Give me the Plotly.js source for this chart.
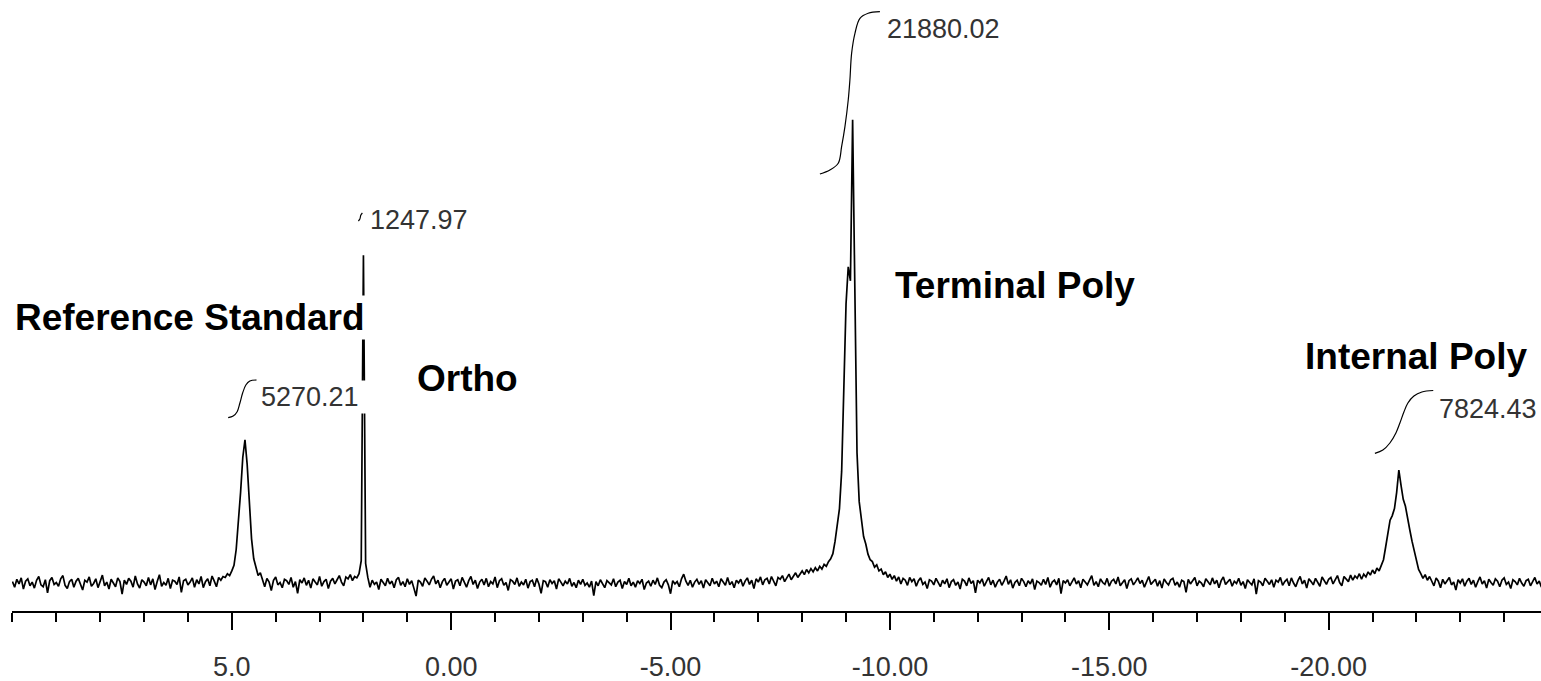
<!DOCTYPE html>
<html>
<head>
<meta charset="utf-8">
<script src="https://cdn.plot.ly/plotly-3.0.1.min.js"></script>
<style>html,body{margin:0;padding:0;background:#fff;}#chart{width:1541px;height:681px;}</style>
</head>
<body>
<div id="chart"></div>
<script>
// Spectrum sampled from 10.00 ppm downward every 0.05 ppm
const startPpm = 10.0;
const stepPpm = -0.05;

const baseA = [0.3,-0.9,0.8,-0.2,1.1,-1.3,0.4,0.9,-0.6,0.2,
-1.1,0.6,1.4,-0.4,-0.8,0.7,-2.1,0.5,1.2,-0.3,
0.1,-0.7,0.9,1.6,-0.5,-1.2,0.3,0.8,-0.9,0.4,
1.0,-0.2,-1.5,0.6,0.2,1.3,-0.7,-0.1,0.9,-1.0,
0.5,1.7,-0.6,0.2,-1.3,0.8,0.0,-0.8,1.1,0.3,
-2.4,0.6,-0.3,1.0,0.4,-0.9,1.5,-0.2,-1.1,0.7,
0.2,-0.6,1.2,-0.4,0.9,-1.4,0.3,1.8,-0.7,0.1,
-0.5,1.0,-1.2,0.6,0.4,-0.3,1.3,-2.0,0.5,0.8,
-0.4,0.2,1.1,-0.9,0.7,-0.2,1.4,-1.0,0.3,0.9,
-0.6,1.5,0.4,-0.8,1.2,0.6,1.4,1.2,2.0,1.6];

const refPeak = [2.6,3.8,7.2,13,19.5,27,30.8,25.5,17.5,9.5,5.2,3.4,1.6,2.2,0.4];

const baseB = [-0.8,1.0,0.2,-1.6,0.6,1.3,-0.4,0.1,-1.0,0.8,
0.5,-0.3,1.2,-0.9,0.3,-2.2,0.7,0.0,1.1,-0.5,
0.6,-1.1,0.9,0.2,-0.4,1.4,-0.7,0.3,0.8,-1.2,
0.4,1.0,-0.2,0.7,1.6,0.2,-0.6,1.3,0.9,1.8,
0.5,1.4,1.1];

const orthoPeak = [2.0,4.8,70.5,4.2,1.2];

const baseC = [-0.9,0.6,-0.3,0.2,-1.4,0.8,0.1,-0.6,1.0,-0.2,
0.4,-1.0,0.7,1.2,-0.5,0.3,-0.8,0.9,-0.3,0.5,
-1.1,-2.8,0.6,0.2,-0.7,1.1,0.4,-0.4,0.8,1.5,
-0.2,0.6,-1.0,0.3,1.0,-0.5,0.2,0.9,-1.3,0.4,
0.7,-0.6,1.2,0.0,-0.9,0.5,1.4,-0.3,0.6,-1.2,
0.2,0.8,-0.4,1.0,-0.8,0.3,-0.2,1.3,-1.0,0.5,
0.9,-0.5,0.1,-1.6,0.7,0.4,-0.3,1.1,-0.7,0.2,
-0.4,0.8,-1.1,0.3,0.6,-0.8,1.0,-0.2,-2.2,0.5,
0.3,-0.9,0.7,-0.1,0.5,-1.3,0.9,0.2,-0.6,0.4,
-0.2,1.0,-0.7,0.1,-1.0,0.6,-0.3,0.8,-0.5,0.0,
-0.9,0.4,-2.7,0.3,-0.6,0.7,-0.2,-1.0,0.5,0.1,
-0.4,0.9,-0.8,0.2,0.6,-1.2,0.3,-0.3,1.0,-0.6,
0.2,-0.9,0.5,-0.1,0.8,-1.4,0.0,0.4,-0.7,0.6,
-0.3,1.1,-0.5,-1.0,0.2,0.7,-0.4,-2.3,0.5,-0.2,
0.3,-0.8,0.9,1.9,0.4,-0.5,0.6,-0.9,0.2,0.8,
-0.3,0.5,-1.1,0.7,0.1,-0.6,1.0,-0.2,0.4,-0.8,
0.9,0.2,-0.5,1.2,-0.4,0.3,-1.0,0.6,0.0,0.8,
-0.7,0.4,1.1,-0.3,0.6,-1.2,0.9,0.2,1.3,-0.4,
0.7,1.0,-0.2,1.4,0.5,-0.6,1.2,0.8,1.6,0.3,
1.1,1.9,0.7,1.5,2.2,1.2,1.9,2.6];

const terminalPeak = [1.8,2.9,2.2,3.1,2.4,3.3,2.6,3.6,3.0,4.0,
3.6,4.6,5.2,6.3,9.0,12.5,16,24,42,60,
68,65,99.6,58,28,17.5,14,10,8.4,6.2,
5.0,4.6,3.4,3.9,2.6,3.0,1.8,2.4,1.2,1.9];

const baseD = [0.8,1.6,0.4,1.3,-0.2,1.0,0.6,-0.5,1.2,0.3,
0.9,-0.7,0.5,1.1,-0.3,0.2,-1.2,0.7,0.4,-0.4,
1.0,0.1,-0.8,0.6,-0.2,0.9,-1.0,0.3,0.7,-0.5,
0.2,-1.3,0.8,0.4,-0.6,1.1,-0.1,0.5,-2.1,0.6,
0.0,0.9,-0.7,0.3,1.2,-0.4,0.6,-0.9,0.2,0.8,
-0.5,0.4,1.5,-0.3,0.7,-1.1,0.1,0.6,-0.6,1.0,
0.3,-0.8,0.5,-0.2,0.9,-1.4,0.4,0.1,-0.5,0.8,
-0.3,1.2,-0.9,0.2,0.6,-0.4,1.0,-2.3,0.5,0.0,
0.7,-0.6,0.3,1.1,-0.2,0.5,-1.0,0.8,0.2,-0.4,
0.6,1.6,-0.5,0.3,-0.8,0.9,0.1,-0.3,1.0,-0.7,
0.4,0.8,-0.2,1.3,-0.6,0.2,0.7,-1.2,0.5,0.9,
-0.4,0.3,1.1,-0.1,0.6,-0.9,0.4,1.4,-0.3,0.2,
0.8,-0.7,0.5,-1.1,0.9,0.1,-0.4,0.7,1.0,-0.5,
0.2,-0.9,0.6,0.3,-2.0,0.8,-0.2,0.5,1.2,-0.6,
0.4,0.0,-0.8,0.9,0.3,-0.4,1.1,-0.2,0.6,-1.0,
0.5,1.3,-0.3,0.2,0.8,-0.7,0.4,-0.1,1.0,-0.5,
0.3,-1.2,0.7,0.1,-0.4,0.9,-2.4,0.5,0.2,-0.6,
1.0,0.4,-0.3,0.7,-0.9,0.6,0.2,1.2,-0.5,0.3,
0.8,-0.6,1.1,0.0,-0.8,0.5,1.4,-0.2,0.6,-1.1,
0.9,0.3,-0.4,1.0,0.2,-0.7,1.3,0.5,-0.3,0.8,
1.2,-0.2,0.7,1.6,0.1,-0.6,1.4,0.9,0.3,1.7,
0.6,1.5,1.0,2.0,0.8,1.9];

const internalPeak = [1.3,2.4,1.7,2.8,2.0,3.2,2.6,3.8,5.0,7.8,
10.8,13.5,14.5,16.0,19.5,24.3,21.0,18.0,16.5,13.5,
11.4,9.0,6.8,4.4,2.9,2.0,1.0,1.8,0.6,1.4];

const baseE = [0.3,-0.6,1.1,0.4,-1.0,0.8,-0.2,0.5,1.2,-0.4,
0.2,-1.5,0.7,0.0,0.9,-0.7,0.4,1.0,-0.3,0.6,
-0.9,0.3,1.3,-0.2,0.5,-1.1,0.8,0.1,-0.5,0.9,
0.4,-0.8,0.6,1.1,-0.3,0.2,-1.2,0.7,0.3,-0.4,
1.0,0.0,-0.7,0.5,0.8,-0.6,0.3,1.2,-0.2,0.4,
-0.9];

const spectrum = [].concat(baseA, refPeak, baseB, orthoPeak, baseC, terminalPeak, baseD, internalPeak, baseE);

// Integral curves (ppm, height)
const intRefX = [5.083,4.969,4.878,4.817,4.755,4.680,4.589,4.436];
const intRefY = [35.55,35.91,36.84,38.65,40.80,42.58,43.44,43.66];
const intOrthoX = [2.115,2.081,2.058,2.024];
const intOrthoY = [77.85,78.28,79.14,79.57];
const intTermX = [-8.404,-8.632,-8.822,-8.899,-8.975,-9.050,-9.088,-9.127,-9.203,-9.317,-9.505,-9.772];
const intTermY = [87.96,88.82,90.26,93.83,98.13,103.87,108.17,113.91,118.22,121.44,122.52,122.86];
const intIntX = [-21.054,-21.236,-21.396,-21.533,-21.624,-21.715,-21.806,-21.943,-22.125,-22.384];
const intIntY = [27.89,28.60,30.11,32.26,34.41,36.77,38.71,40.22,41.08,41.40];

const integralValues = ['5270.21','1247.97','21880.02','7824.43'];
const peakNames = ['Reference Standard','Ortho','Terminal Poly','Internal Poly'];

const tickVals = [5,0,-5,-10,-15,-20];
const tickText = ['5.0','0.00','-5.00','-10.00','-15.00','-20.00'];

const lineStyle = {color:'#000', width:1.7};
const intStyle = {color:'#000', width:1.2, shape:'spline'};

const traces = [
  {type:'scatter', mode:'lines', x0:startPpm, dx:stepPpm, y:spectrum, line:lineStyle, hoverinfo:'skip'},
  {type:'scatter', mode:'lines', x:intRefX, y:intRefY, line:intStyle, hoverinfo:'skip'},
  {type:'scatter', mode:'lines', x:intOrthoX, y:intOrthoY, line:intStyle, hoverinfo:'skip'},
  {type:'scatter', mode:'lines', x:intTermX, y:intTermY, line:intStyle, hoverinfo:'skip'},
  {type:'scatter', mode:'lines', x:intIntX, y:intIntY, line:intStyle, hoverinfo:'skip'}
];

const numFont = {family:'"Liberation Sans",Arial,sans-serif', size:27, color:'#333'};
const tickFont = {family:'"Liberation Sans",Arial,sans-serif', size:27, color:'#333'};
const nameFont = {family:'"Liberation Sans",Arial,sans-serif', size:37, color:'#000'};

function ann(text, x, y, font, boxWidth){
  const a = {text:text, x:x, y:y, xref:'x', yref:'y', xanchor:'left', yanchor:'middle', align:'left',
          showarrow:false, font:font, borderpad:1};
  if (boxWidth) { a.width = boxWidth; a.bgcolor = '#fff'; }
  return a;
}

const annotations = [
  ann('<b>'+peakNames[0]+'</b>', 9.99, 57.2, nameFont, 358),
  ann('<b>'+peakNames[1]+'</b>', 0.83, 43.9, nameFont),
  ann('<b>'+peakNames[2]+'</b>', -10.07, 63.9, nameFont),
  ann('<b>'+peakNames[3]+'</b>', -19.41, 48.8, nameFont),
  ann(integralValues[0], 4.39, 40.0, numFont, 110),
  ann(integralValues[1], 1.89, 78.0, numFont),
  ann(integralValues[2], -9.886, 119.2, numFont),
  ann(integralValues[3], -22.46, 37.5, numFont)
];

const layout = {
  width:1541, height:681,
  margin:{l:12, r:0, t:0, b:70},
  paper_bgcolor:'#fff', plot_bgcolor:'#fff',
  showlegend:false,
  xaxis:{
    range:[10.01,-24.84], showgrid:false, zeroline:false,
    showline:true, linecolor:'#000', linewidth:2,
    tickmode:'array', tickvals:tickVals, ticktext:tickText,
    ticks:'outside', ticklen:17, tickwidth:2, tickcolor:'#000',
    tickfont:tickFont, ticklabelstandoff:14,
    minor:{tickmode:'linear', tick0:0, dtick:1, ticks:'outside', ticklen:9, tickwidth:2, tickcolor:'#000', showgrid:false}
  },
  yaxis:{visible:false, range:[-6.02,125.38], fixedrange:true},
  annotations:annotations
};

Plotly.newPlot('chart', traces, layout, {displayModeBar:false, staticPlot:true});
</script>
</body>
</html>
